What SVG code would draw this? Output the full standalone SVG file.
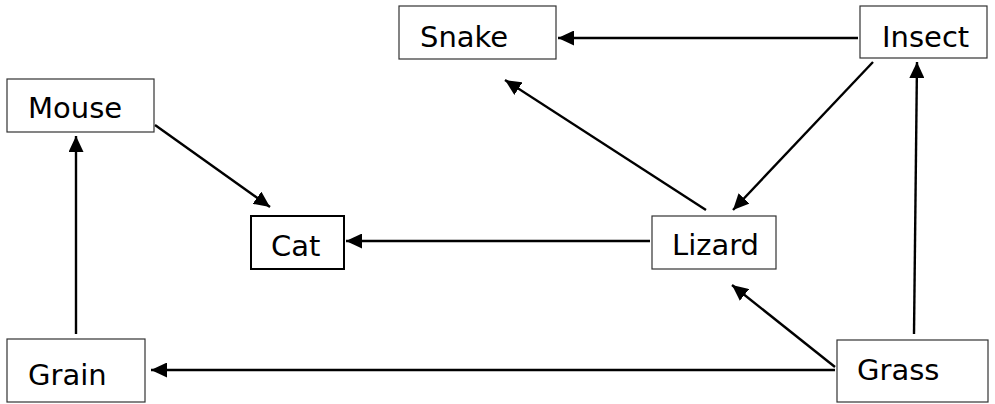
<svg xmlns="http://www.w3.org/2000/svg" width="995" height="404" viewBox="0 0 995 404">
<defs>
<style>
.box{fill:#fff;stroke:#333;stroke-width:1.2}
.bold{stroke:#000;stroke-width:2}
.lbl{font-family:"DejaVu Sans",Verdana,sans-serif;font-size:29px;fill:#000}
.edge{stroke:#000;stroke-width:2.4;fill:none;marker-end:url(#ah)}
</style>
<marker id="ah" markerUnits="userSpaceOnUse" markerWidth="17" markerHeight="15" refX="16" refY="7.5" orient="auto">
<path d="M0,0 L16,7.5 L0,15 z" fill="#000"/>
</marker>
</defs>
<rect width="995" height="404" fill="#fff"/>
<g id="connectors">
<line class="edge" x1="858" y1="38" x2="558" y2="38"/>
<line class="edge" x1="873" y1="62" x2="733" y2="210"/>
<line class="edge" x1="706" y1="210" x2="505" y2="80"/>
<line class="edge" x1="155" y1="125" x2="270" y2="207"/>
<line class="edge" x1="650" y1="241" x2="346" y2="241"/>
<line class="edge" x1="76" y1="334" x2="76" y2="136"/>
<line class="edge" x1="835" y1="370" x2="151" y2="370"/>
<line class="edge" x1="835" y1="367" x2="732" y2="285"/>
<line class="edge" x1="914" y1="334" x2="917" y2="62"/>
</g>
<g id="snake"><rect class="box" x="399" y="6" width="157" height="53"/><text class="lbl" x="420" y="47">Snake</text></g>
<g id="insect"><rect class="box" x="860" y="6" width="127" height="52"/><text class="lbl" x="882" y="47">Insect</text></g>
<g id="mouse"><rect class="box" x="7" y="79" width="147" height="53"/><text class="lbl" x="28" y="118">Mouse</text></g>
<g id="cat"><rect class="box bold" x="251" y="216" width="93" height="53"/><text class="lbl" x="271" y="256">Cat</text></g>
<g id="lizard"><rect class="box" x="652" y="216" width="124" height="53"/><text class="lbl" x="672" y="255">Lizard</text></g>
<g id="grain"><rect class="box" x="7" y="339" width="138" height="63"/><text class="lbl" x="28" y="385">Grain</text></g>
<g id="grass"><rect class="box" x="837" y="340" width="151" height="62"/><text class="lbl" x="857" y="380">Grass</text></g>
</svg>
